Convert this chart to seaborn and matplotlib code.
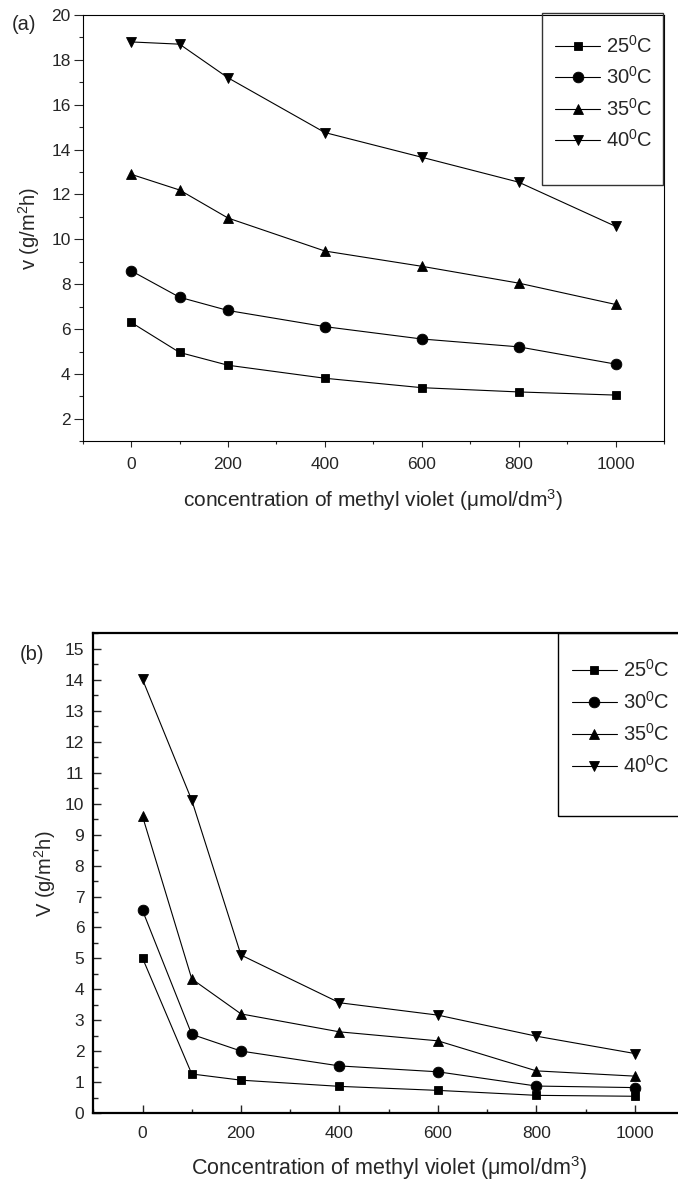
import numpy as np
import pandas as pd
import matplotlib
matplotlib.use("Agg")
import matplotlib.pyplot as plt
from matplotlib.ticker import MultipleLocator
from matplotlib.patches import Rectangle
import seaborn as sns

# ---- data -------------------------------------------------------------
concentration = [0, 100, 200, 400, 600, 800, 1000]
temperatures = ["25$^0$C", "30$^0$C", "35$^0$C", "40$^0$C"]

# panel (a)
rate_a_25 = [6.30, 4.96, 4.39, 3.81, 3.39, 3.20, 3.06]
rate_a_30 = [8.60, 7.42, 6.83, 6.11, 5.56, 5.21, 4.44]
rate_a_35 = [12.90, 12.20, 10.95, 9.48, 8.80, 8.05, 7.10]
rate_a_40 = [18.80, 18.70, 17.20, 14.76, 13.66, 12.55, 10.58]

# panel (b)
rate_b_25 = [5.01, 1.27, 1.07, 0.87, 0.74, 0.58, 0.55]
rate_b_30 = [6.55, 2.55, 2.01, 1.53, 1.34, 0.88, 0.83]
rate_b_35 = [9.59, 4.34, 3.21, 2.63, 2.34, 1.37, 1.20]
rate_b_40 = [14.01, 10.11, 5.11, 3.57, 3.17, 2.49, 1.93]

markers = ["s", "o", "^", "v"]
marker_sizes = [6.4, 7.7, 7.7, 7.7]


def long_frame(series):
    rows = []
    for label, values in zip(temperatures, series):
        for c, v in zip(concentration, values):
            rows.append({"conc": c, "rate": v, "temp": label})
    return pd.DataFrame(rows)


df_a = long_frame([rate_a_25, rate_a_30, rate_a_35, rate_a_40])
df_b = long_frame([rate_b_25, rate_b_30, rate_b_35, rate_b_40])

# ---- style ------------------------------------------------------------
sns.set_style("ticks")
plt.rcParams["font.family"] = ["Liberation Sans", "DejaVu Sans"]
plt.rcParams["mathtext.fontset"] = "custom"
plt.rcParams["mathtext.rm"] = "Liberation Sans"
plt.rcParams["mathtext.it"] = "Liberation Sans:italic"
plt.rcParams["mathtext.default"] = "regular"

W, H = 678, 1182
fig = plt.figure(figsize=(W / 100, H / 100), dpi=100)


def px_axes(left, top, right, bottom):
    return fig.add_axes([left / W, 1 - bottom / H, (right - left) / W, (bottom - top) / H])


def draw_panel(ax, df):
    sns.lineplot(data=df, x="conc", y="rate", style="temp", markers=markers,
                 dashes=False, color="black", linewidth=0.8, markeredgecolor="black",
                 errorbar=None, legend=False, ax=ax)
    for line, ms in zip(ax.get_lines(), marker_sizes):
        line.set_markersize(ms)
        line.set_markerfacecolor("black")
        line.set_markeredgewidth(0.6)
    ax.set_xlim(-100, 1100)
    ax.xaxis.set_major_locator(MultipleLocator(200))
    ax.xaxis.set_minor_locator(MultipleLocator(100))
    for s in ax.spines.values():
        s.set_color("black")


def add_legend(ax, x0, y0, spacing):
    handles = ax.get_lines()[:4]
    leg = ax.legend(handles, temperatures, frameon=False, loc="upper left",
                    bbox_to_anchor=(x0 / W, 1 - y0 / H), bbox_transform=fig.transFigure,
                    fontsize=14.5, handlelength=2.25, handletextpad=0.3,
                    labelspacing=spacing, borderpad=0, borderaxespad=0)
    return leg


# ---- panel (a) --------------------------------------------------------
ax_a = px_axes(82.7, 15, 664, 441.3)
draw_panel(ax_a, df_a)
ax_a.set_ylim(1, 20)
ax_a.yaxis.set_major_locator(MultipleLocator(2))
ax_a.yaxis.set_minor_locator(MultipleLocator(1))
ax_a.tick_params(axis="y", which="major", direction="out", length=6.7, width=0.8,
                 labelsize=12.5, pad=2)
ax_a.tick_params(axis="y", which="minor", direction="out", length=3.2, width=0.8)
ax_a.tick_params(axis="x", which="major", direction="out", length=4, width=0.8,
                 labelsize=12.5, pad=7)
ax_a.tick_params(axis="x", which="minor", direction="out", length=2.5, width=0.8)
for s in ax_a.spines.values():
    s.set_linewidth(0.8)
ax_a.set_xlabel("concentration of methyl violet (\u03bcmol/dm$^3$)", fontsize=15, labelpad=11)
ax_a.set_ylabel("v (g/m$^2$h)", fontsize=14.5, labelpad=7)
add_legend(ax_a, 555, 35, 0.47)
fig.add_artist(Rectangle((541.7 / W, 1 - 185 / H), (662.7 - 541.7) / W, (185 - 12.7) / H,
                         transform=fig.transFigure, fill=False, edgecolor="#333333",
                         linewidth=1.0))
fig.text(12 / W, 1 - 25 / H, "(a)", fontsize=14.5, va="center", ha="left")

# ---- panel (b) --------------------------------------------------------
ax_b = px_axes(93.3, 633.3, 684.1, 1113.3)
draw_panel(ax_b, df_b)
ax_b.set_ylim(0, 15.5)
ax_b.yaxis.set_major_locator(MultipleLocator(1))
ax_b.yaxis.set_minor_locator(MultipleLocator(0.5))
ax_b.tick_params(axis="y", which="major", direction="in", length=6, width=1.0,
                 labelsize=12.5, pad=6.5)
ax_b.tick_params(axis="y", which="minor", direction="in", length=3.5, width=1.0)
ax_b.tick_params(axis="x", which="major", direction="in", length=6, width=1.0,
                 labelsize=12.5, pad=9.5)
ax_b.tick_params(axis="x", which="minor", direction="in", length=3, width=1.0)
for s in ax_b.spines.values():
    s.set_linewidth(1.6)
ax_b.set_xlabel("Concentration of methyl violet (\u03bcmol/dm$^3$)", fontsize=15.5, labelpad=9)
ax_b.set_ylabel("$V$ (g/m$^2$h)", fontsize=14.5, labelpad=5)
add_legend(ax_b, 571.7, 659, 0.5)
fig.add_artist(Rectangle((558.3 / W, 1 - 816 / H), 200 / W, (816 - 633.3) / H,
                         transform=fig.transFigure, fill=False, edgecolor="black",
                         linewidth=1.0))
fig.text(20 / W, 1 - 655 / H, "(b)", fontsize=14.5, va="center", ha="left")

fig.savefig("out.png", dpi=100)
